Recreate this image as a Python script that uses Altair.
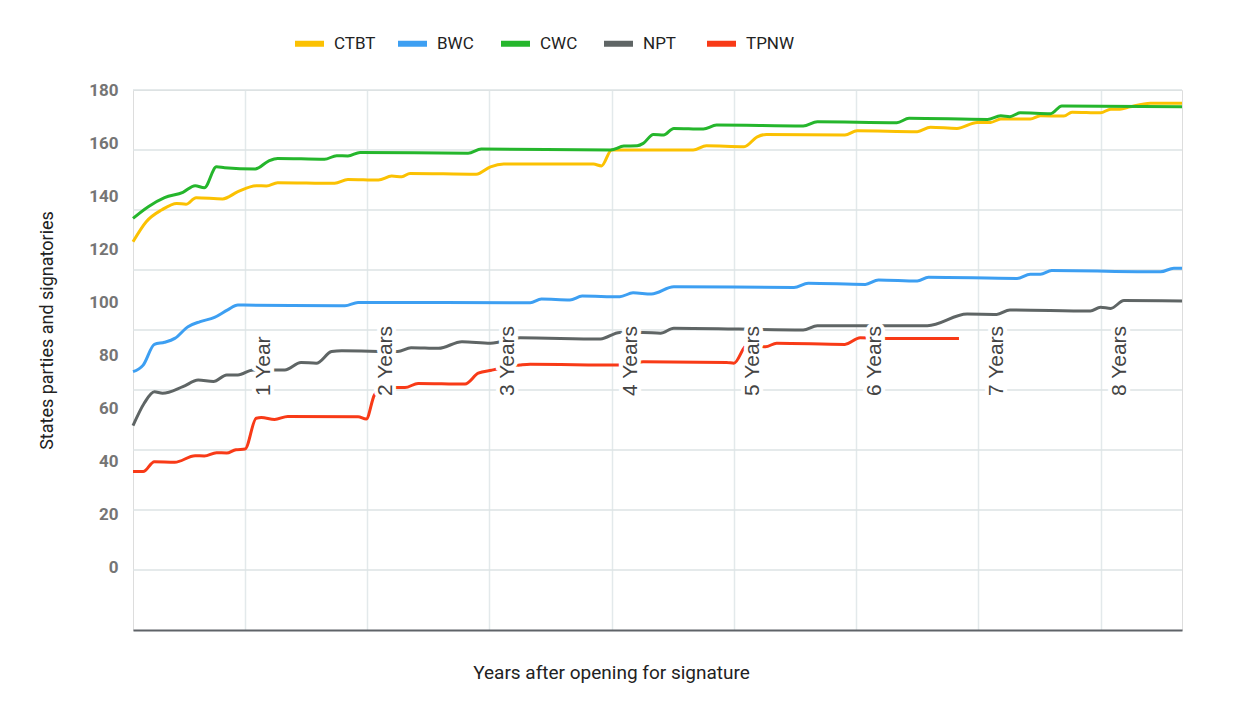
import altair as alt
import pandas as pd

SERIES = ["CTBT", "BWC", "CWC", "NPT", "TPNW"]
COLORS = ["#fbc102", "#3d9ff2", "#25b62c", "#5f6565", "#f83a17"]

ctbt_month = [1, 2.3, 3.8, 5.3, 6.2, 7.2, 9.8, 11.3, 13.1, 14.1, 15.2, 20.8, 22.1, 25.1, 26.4, 27.4, 28.2, 34.7, 36.1, 37.4, 46.2, 47.0, 48.0, 56.0, 57.3, 61.0, 62.3, 63.2, 70.9, 72.1, 78.0, 79.3, 81.9, 83.9, 85.2, 86.2, 89.1, 90.1, 92.4, 93.2, 96.0, 97.0, 97.9, 98.9, 100.9, 104]
ctbt_value = [129.4, 136.1, 140, 142.2, 141.9, 144.1, 143.7, 146.1, 148.1, 148, 149.1, 148.9, 150.2, 150, 151.3, 151.1, 152.2, 151.9, 154.4, 155.3, 155.3, 154.7, 160, 160, 161.4, 161.1, 164.4, 165.2, 165, 166.4, 166.1, 167.6, 167.2, 169.2, 169.2, 170.3, 170.3, 171.4, 171.3, 172.6, 172.4, 173.6, 173.6, 174.4, 175.6, 175.6]

bwc_month = [1, 2, 3.1, 4.1, 5.1, 6.4, 7.6, 9.0, 10.3, 11.3, 21.8, 23.1, 40.0, 41.1, 43.9, 45.1, 48.8, 50.1, 51.9, 54.1, 65.9, 67.3, 72.9, 74.2, 78.0, 79.1, 87.8, 89.1, 90.1, 91.2, 101.9, 103.2, 104]
bwc_value = [86.1, 88.3, 95.2, 95.9, 97.2, 101.1, 102.8, 104.2, 106.7, 108.3, 108.1, 109.2, 109.1, 110.3, 110, 111.3, 111.1, 112.4, 112, 114.4, 114.2, 115.6, 115.2, 116.7, 116.3, 117.6, 117.2, 118.6, 118.6, 119.8, 119.4, 120.6, 120.6]

cwc_month = [1, 2.5, 4.1, 5.9, 7.1, 8.0, 9.2, 10.0, 13.0, 14.3, 15.2, 19.8, 21.0, 22.1, 23.3, 33.9, 35.2, 47.9, 49.2, 50.5, 51.1, 52.1, 53.1, 54.1, 57.0, 58.3, 66.8, 68.2, 76.0, 77.2, 84.9, 86.2, 87.1, 88.1, 91.1, 92.2, 104]
cwc_value = [137.2, 141.1, 144.1, 145.9, 148.1, 147.4, 154.4, 154.1, 153.7, 156.3, 157.2, 156.9, 158.1, 158, 159.2, 158.9, 160.3, 160, 161.3, 161.4, 162.2, 165.2, 165, 167.2, 167, 168.3, 168, 169.4, 169.1, 170.6, 170.2, 171.4, 171.1, 172.4, 172.1, 174.7, 174.4]

npt_month = [1, 2.1, 3.1, 3.9, 5.9, 7.4, 8.9, 10.2, 11.3, 12.8, 14.9, 15.9, 17.5, 19.0, 20.5, 21.5, 27.0, 28.3, 31.0, 33.3, 36.1, 39.0, 46.9, 48.8, 51.1, 52.8, 54.1, 66.8, 68.2, 79.0, 82.9, 85.8, 87.1, 95.0, 96.0, 97.0, 98.3, 104]
npt_value = [68.1, 75.6, 79.4, 78.9, 81.1, 83.3, 82.8, 85, 85, 86.7, 86.7, 86.7, 89.2, 88.9, 92.8, 93.1, 92.8, 94.1, 93.9, 96.1, 95.6, 97.4, 97, 99.2, 99.2, 98.9, 100.6, 100, 101.4, 101.4, 105.3, 105.2, 106.7, 106.3, 107.6, 107.2, 109.8, 109.7]

tpnw_month = [1, 2, 3.1, 5.1, 7.1, 8, 9.2, 10.2, 11.1, 12, 13.1, 13.6, 14.9, 16.2, 23.1, 23.9, 24.7, 25.6, 27.7, 29.0, 33.6, 34.9, 36.2, 39.0, 40.0, 48.7, 51.1, 59.3, 60.0, 61.3, 63.1, 64.2, 70.9, 72.4, 75.0, 82.1]
tpnw_value = [52.8, 52.8, 56.1, 55.9, 58.1, 58, 59.1, 59, 60.1, 60.3, 70.6, 70.8, 70.2, 71.2, 71.1, 70.3, 78.3, 80.8, 80.8, 82.2, 82, 85.6, 86.6, 88.3, 88.6, 88.3, 89.4, 89.2, 88.9, 95, 94.4, 95.6, 95.2, 97.4, 97.2, 97.2]

grid_values = [20, 40, 60, 80, 100, 120, 140, 160, 180]
tick_labels = [0, 20, 40, 60, 80, 100, 120, 140, 160, 180]
years = [1, 2, 3, 4, 5, 6, 7, 8]
year_labels = ["1 Year", "2 Years", "3 Years", "4 Years", "5 Years", "6 Years", "7 Years", "8 Years"]

rows = []
for name, ms, vs in [("CTBT", ctbt_month, ctbt_value), ("BWC", bwc_month, bwc_value),
                     ("CWC", cwc_month, cwc_value), ("NPT", npt_month, npt_value),
                     ("TPNW", tpnw_month, tpnw_value)]:
    for m, v in zip(ms, vs):
        rows.append({"series": name, "month": m, "value": v})
df = pd.DataFrame(rows)

x_scale = alt.Scale(domain=[1, 104], nice=False, zero=False)
y_scale = alt.Scale(domain=[0, 180], nice=False, zero=False)

grid = alt.Chart(pd.DataFrame({"g": grid_values})).mark_rule(
    color="#dde3e5", strokeWidth=1.5
).encode(y=alt.Y("g:Q", scale=y_scale, axis=None))

lines = alt.Chart(df).mark_line(interpolate="monotone", strokeWidth=3).encode(
    x=alt.X("month:Q", scale=x_scale, axis=alt.Axis(
        values=[12 * y for y in years], grid=True, gridColor="#e3e9eb", gridWidth=1.5,
        labels=False, ticks=False, domain=True, domainColor="#5f6368", domainWidth=2,
        title="Years after opening for signature", titleFont="Roboto", titleFontSize=19,
        titleFontWeight="normal", titleColor="#222222", titleX=478, titleY=33,
        titleBaseline="top", titleAlign="center")),
    y=alt.Y("value:Q", scale=y_scale, axis=None),
    color=alt.Color("series:N", scale=alt.Scale(domain=SERIES, range=COLORS),
                    legend=alt.Legend(orient="none", direction="horizontal", legendX=159,
                                      legendY=-64, title=None, symbolType="stroke",
                                      symbolStrokeWidth=6, symbolSize=841,
                                      labelFont="Roboto", labelFontSize=17,
                                      labelColor="#222222", labelOffset=7,
                                      columnPadding=3, gridAlign="all", columns=5)),
    detail="series:N",
)

ylab = alt.Chart(pd.DataFrame({"t": tick_labels})).mark_point(opacity=0).encode(
    y=alt.Y("t:Q", scale=alt.Scale(domain=[-23.6, 180.2], nice=False, zero=False),
            axis=alt.Axis(values=tick_labels, orient="left", grid=False, ticks=False,
                          domain=False, labelFont="Roboto", labelFontWeight="bold",
                          labelFontSize=17, labelColor="#757575", labelPadding=15,
                          title="States parties and signatories", titleFont="Roboto",
                          titleFontSize=18, titleFontWeight="normal", titleColor="#222222",
                          titleX=-86, titleY=240, titleAngle=270, titleAlign="center",
                          titleBaseline="middle"))
)

yl = alt.Chart(pd.DataFrame({"year": years, "label": year_labels})).transform_calculate(
    month="datum.year * 12"
)
halo = yl.mark_text(angle=270, align="left", baseline="middle", dy=19,
                    font="Liberation Sans", fontSize=21, fill="white",
                    stroke="white", strokeWidth=8).encode(
    x=alt.X("month:Q", scale=x_scale), y=alt.value(306), text="label:N")
txt = yl.mark_text(angle=270, align="left", baseline="middle", dy=19,
                   font="Liberation Sans", fontSize=21, color="#444444").encode(
    x=alt.X("month:Q", scale=x_scale), y=alt.value(306), text="label:N")

chart = alt.layer(
    alt.layer(grid, lines, halo, txt), ylab
).resolve_scale(y="independent").properties(
    width=1049, height=540,
    autosize=alt.AutoSizeParams(type="none"),
    padding={"left": 125, "top": 82, "right": 50, "bottom": 70},
).configure_view(stroke=None).configure(background="white")

chart.save("out.html", embed_options={"renderer": "svg", "actions": False})
